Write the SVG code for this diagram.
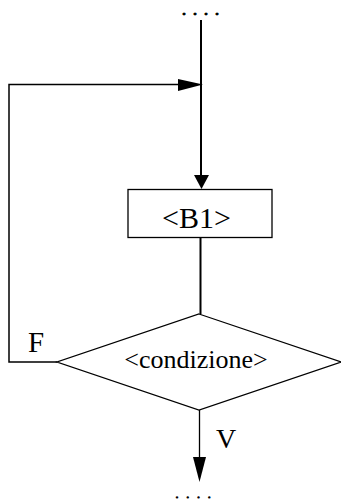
<svg xmlns="http://www.w3.org/2000/svg" width="341" height="499" viewBox="0 0 341 499">
<style>
text{font-family:"Liberation Serif","Times New Roman",serif;fill:#000}
.ln{stroke:#000;fill:none}
.ah{fill:#000;stroke:none}
.shape{fill:#fff;stroke:#000;stroke-width:1.3}
.dots{stroke:#000;stroke-width:1.2px}
</style>
<rect width="341" height="499" fill="#fff"/>
<g id="connectors">
<line class="ln" x1="201" y1="20" x2="201" y2="176" stroke-width="2"/>
<polygon class="ah" points="194,175 209,175 201.5,189"/>
<polyline class="ln" points="57,362 9,362 9,84.5 179,84.5" stroke-width="1.5"/>
<polygon class="ah" points="178,79 203,84.5 178,91"/>
<line class="ln" x1="200.5" y1="237" x2="200.5" y2="314" stroke-width="2"/>
<line class="ln" x1="199.5" y1="410" x2="199.5" y2="458" stroke-width="1.3"/>
<polygon class="ah" points="193,457 206,457 199.5,482"/>
</g>
<g id="start">
<text class="dots" x="182" y="15" font-size="16" style="letter-spacing:7px">....</text>
</g>
<g id="B1">
<rect class="shape" x="128" y="189.5" width="144" height="48"/>
<text x="196.5" y="228" font-size="30" text-anchor="middle">&lt;B1&gt;</text>
</g>
<g id="condizione">
<polygon class="shape" points="199,314 341,362 199,410 57,362"/>
<text x="196" y="368" font-size="26" text-anchor="middle">&lt;condizione&gt;</text>
</g>
<g id="labels">
<text x="28" y="352" font-size="29">F</text>
<text x="216" y="448" font-size="28">V</text>
</g>
<g id="end">
<text class="dots" x="175.8" y="497.5" font-size="10" style="letter-spacing:8.2px">....</text>
</g>
</svg>
